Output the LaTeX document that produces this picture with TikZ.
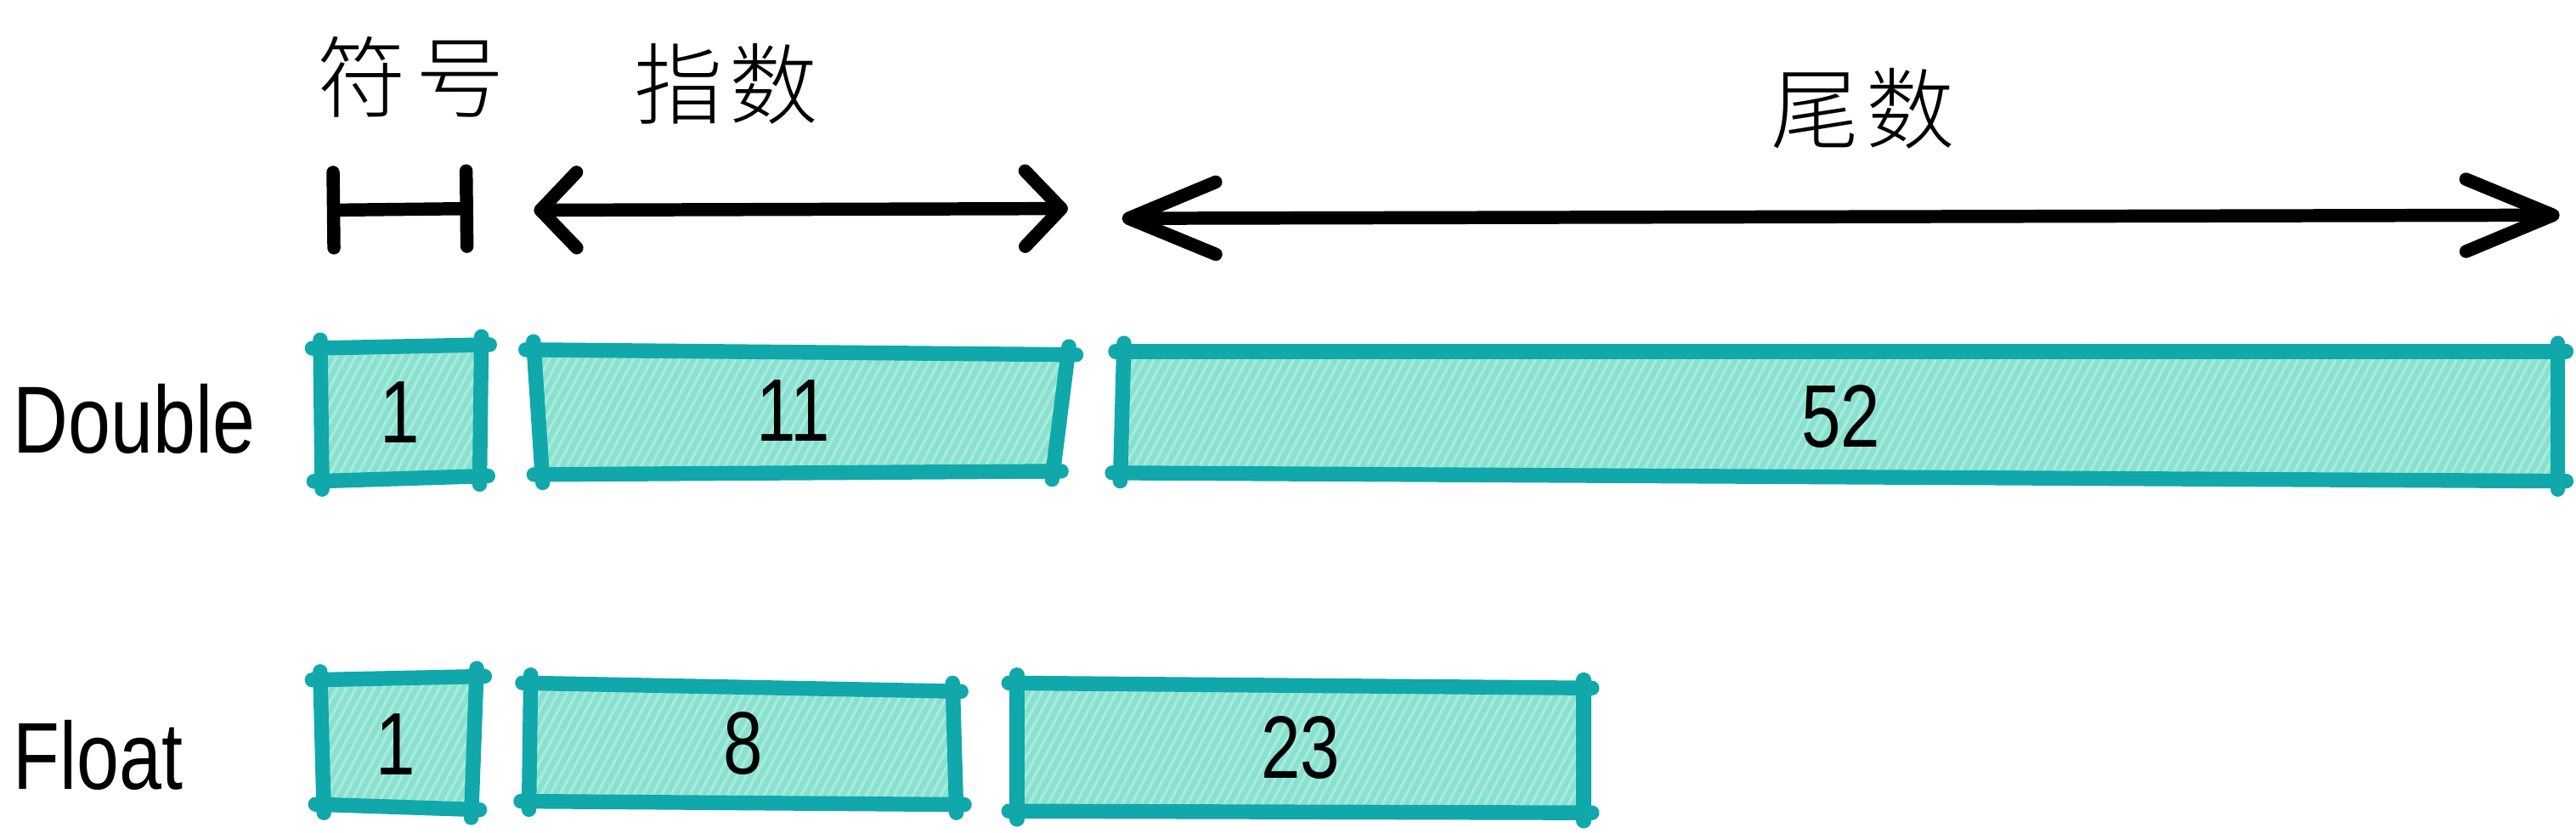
\documentclass[tikz,border=0pt]{standalone}
\usepackage{graphicx}
\usepackage{fontspec}
\setmainfont{Liberation Sans}
\newfontfamily\cjk{Noto Sans CJK SC Light}
\usetikzlibrary{arrows.meta,calc,patterns.meta}
\definecolor{cellline}{HTML}{10A8AB}
\definecolor{cellfill}{HTML}{88E0D0}
\definecolor{cellhatch}{HTML}{A8EBDA}
\tikzset{
  edge/.style={draw=cellline,line width=9pt,line cap=round},
  dim/.style={draw=black,line width=8pt,line cap=round,line join=round},
  short head/.tip={Straight Barb[length=22pt,width=46pt,line cap=round,line join=round]},
  long head/.tip={Straight Barb[length=53pt,width=44pt,line cap=round,line join=round]},
  end bar/.tip={Bar[width=46pt,line cap=round]},
  title/.style={font=\cjk\fontsize{54}{60}\selectfont},
  word/.style={font=\fontsize{58}{64}\selectfont,inner sep=0pt},
  num/.style={font=\fontsize{54}{60}\selectfont}
}
\newcommand\hand[1]{\scalebox{0.8}[1]{#1}}
\newcommand\cell[6]{%
  \coordinate (#1a) at (#2); \coordinate (#1b) at (#3);
  \coordinate (#1c) at (#4); \coordinate (#1d) at (#5);
  \fill[cellfill] (#1a)--(#1b)--(#1c)--(#1d)--cycle;
  \fill[pattern={Lines[angle=62,distance=5pt,line width=1.8pt]},pattern color=cellhatch]
    (#1a)--(#1b)--(#1c)--(#1d)--cycle;
  \foreach \p/\q in {a/b,b/c,c/d,d/a}
    \draw[edge] ($(#1\p)!-5pt!(#1\q)$)--($(#1\q)!-5pt!(#1\p)$);
  \node[num] (#1) at ($(#1a)!0.5!(#1c)$) {\hand{#6}};
}
\begin{document}
\begin{tikzpicture}[x=1pt,y=-1pt]
  \useasboundingbox (0,0) rectangle (1568,507);
  \node[title] (sign) at (250,47) {符\hspace{6pt}号};
  \node[title] (expo) at (442,51) {指\hspace{4pt}数};
  \node[title] (mant) at (1134,66) {尾\hspace{4pt}数};
  \coordinate (s1) at (199,128); \coordinate (s2) at (288,127);
  \coordinate (e1) at (325,128); \coordinate (e2) at (650,127);
  \coordinate (m1) at (683,133); \coordinate (m2) at (1558,131);
  \draw[dim,end bar-end bar] (s1)--(s2);
  \draw[dim,short head-short head] (e1)--(e2);
  \draw[dim,long head-long head] (m1)--(m2);
  \node[word,anchor=west] (double) at (8,255) {\hand{Double}};
  \node[word,anchor=west] (float) at (8,460) {\hand{Float}};
  \cell{da}{195,212}{293,210}{292,290}{196,293}{1}
  \cell{db}{325,213}{650,216}{641,287}{330,289}{11}
  \cell{dc}{684,214}{1557,214}{1557,293}{682,288}{52}
  \cell{fa}{195,414}{290,412}{287,493}{197,490}{1}
  \cell{fb}{323,416}{580,421}{582,490}{322,488}{8}
  \cell{fc}{619,416}{964,419}{964,495}{619,494}{23}
\end{tikzpicture}
\end{document}
